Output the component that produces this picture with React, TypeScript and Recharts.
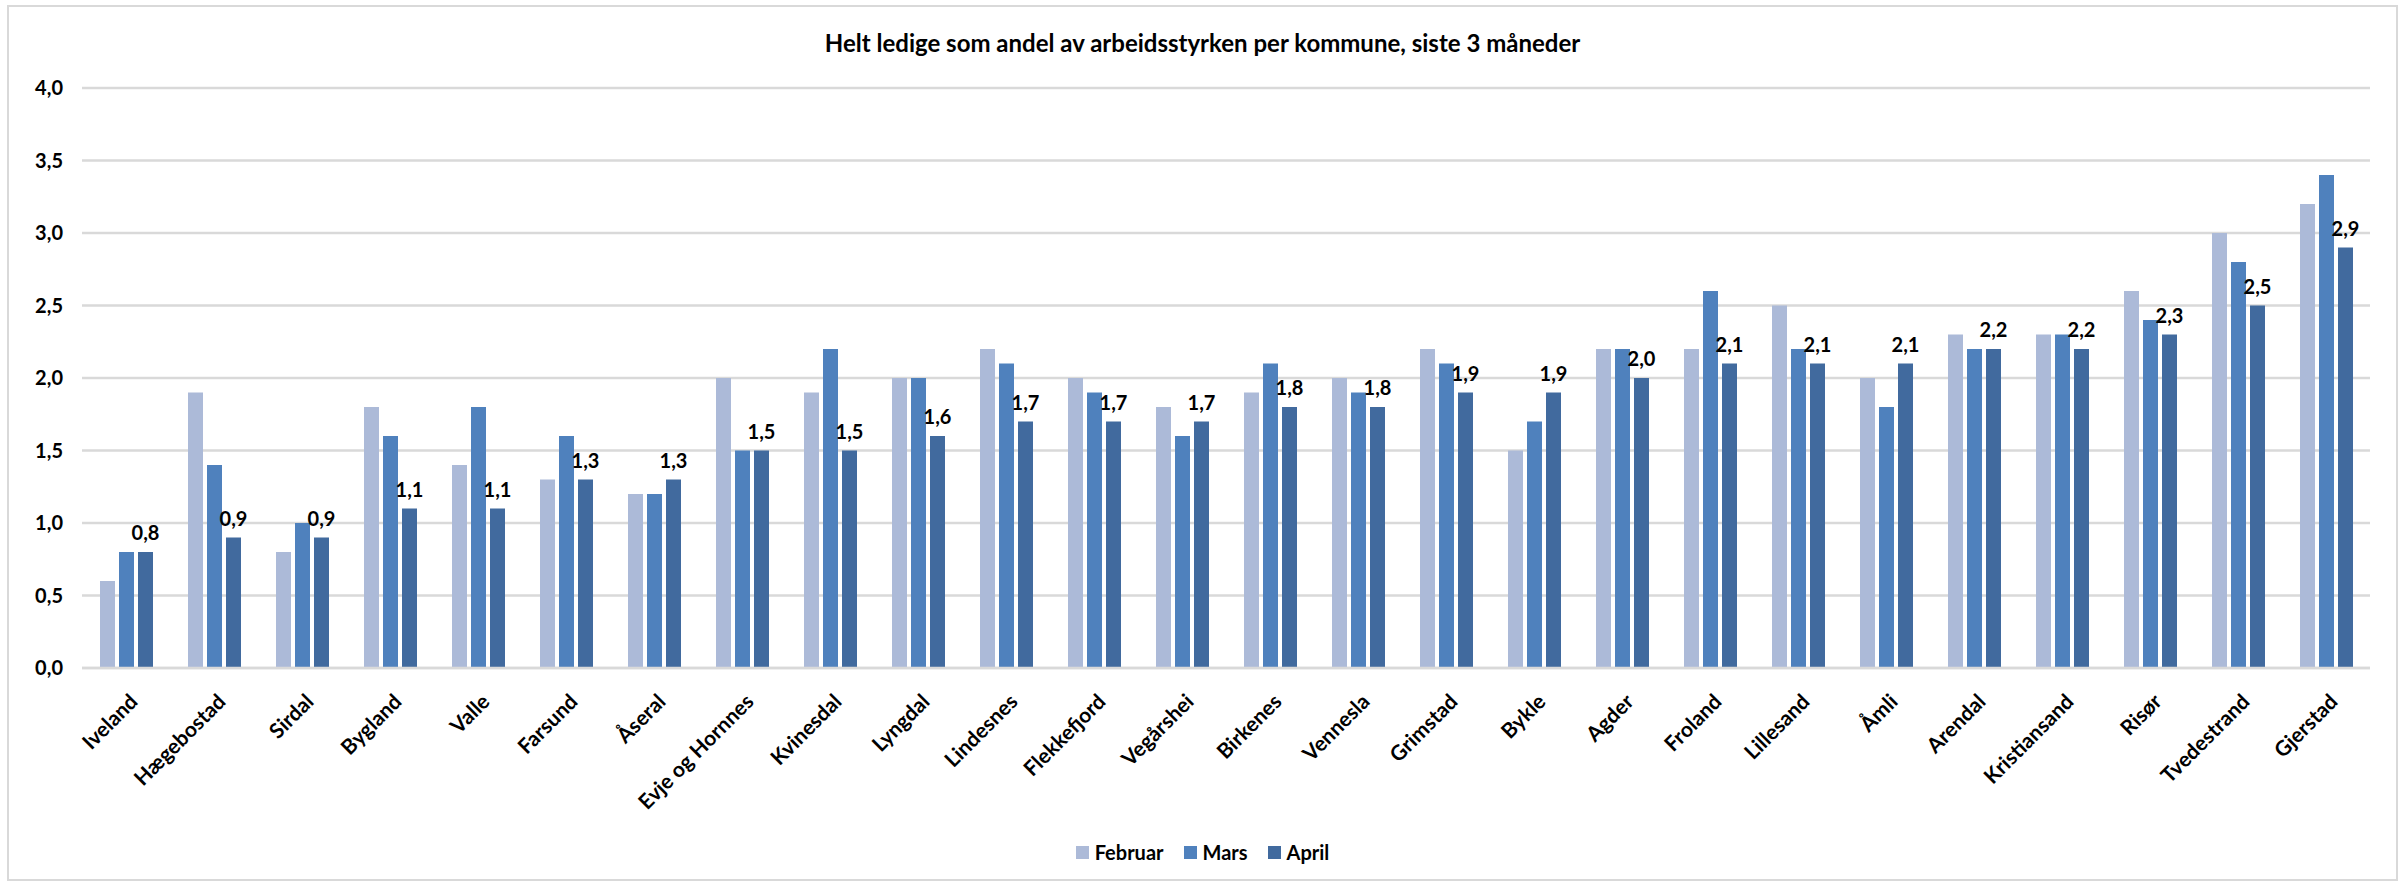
import React from 'react';
import { BarChart, Bar, XAxis, YAxis, CartesianGrid, Legend, LabelList } from 'recharts';

const kommuner = [
  'Iveland', 'Hægebostad', 'Sirdal', 'Bygland', 'Valle', 'Farsund', 'Åseral', 'Evje og Hornnes',
  'Kvinesdal', 'Lyngdal', 'Lindesnes', 'Flekkefjord', 'Vegårshei', 'Birkenes', 'Vennesla',
  'Grimstad', 'Bykle', 'Agder', 'Froland', 'Lillesand', 'Åmli', 'Arendal', 'Kristiansand',
  'Risør', 'Tvedestrand', 'Gjerstad',
];
const februar = [0.6, 1.9, 0.8, 1.8, 1.4, 1.3, 1.2, 2.0, 1.9, 2.0, 2.2, 2.0, 1.8, 1.9, 2.0, 2.2, 1.5, 2.2, 2.2, 2.5, 2.0, 2.3, 2.3, 2.6, 3.0, 3.2];
const mars = [0.8, 1.4, 1.0, 1.6, 1.8, 1.6, 1.2, 1.5, 2.2, 2.0, 2.1, 1.9, 1.6, 2.1, 1.9, 2.1, 1.7, 2.2, 2.6, 2.2, 1.8, 2.2, 2.3, 2.4, 2.8, 3.4];
const april = [0.8, 0.9, 0.9, 1.1, 1.1, 1.3, 1.3, 1.5, 1.5, 1.6, 1.7, 1.7, 1.7, 1.8, 1.8, 1.9, 1.9, 2.0, 2.1, 2.1, 2.1, 2.2, 2.2, 2.3, 2.5, 2.9];
const yTicks = [0, 0.5, 1, 1.5, 2, 2.5, 3, 3.5, 4];
const seriesNames = ['Februar', 'Mars', 'April'];

const chartData = kommuner.map((name, i) => ({
  name,
  februar: februar[i],
  mars: mars[i],
  april: april[i],
}));

const FONT = 'Lato, "Open Sans", sans-serif';
const GRID = '#D9D9D9';

const komma = (v: number) => Number(v).toFixed(1).replace('.', ',');

const CategoryTick = (props: any) => {
  const { x, y, payload } = props;
  return (
    <g transform={`translate(${x + 13},${y + 27})`}>
      <text
        textAnchor="end"
        transform="rotate(-45)"
        fontFamily={FONT}
        fontWeight={700}
        fontSize={21}
        fill="#000"
      >
        {payload.value}
      </text>
    </g>
  );
};

const LegendContent = (props: any) => {
  const { payload = [] } = props;
  // keep series order, recharts sorts legend items by name
  const items = [...payload].sort((a: any, b: any) => seriesNames.indexOf(a.value) - seriesNames.indexOf(b.value));
  return (
    <div style={{
      display: 'flex', justifyContent: 'center', alignItems: 'center', gap: 20,
      fontFamily: FONT, fontWeight: 700, fontSize: 20, color: '#000', height: 30,
    }}>
      {items.map((entry: any) => (
        <span key={entry.value} style={{ display: 'flex', alignItems: 'center' }}>
          <span style={{ width: 13, height: 13, background: entry.color, marginRight: 6, display: 'inline-block' }} />
          {entry.value}
        </span>
      ))}
    </div>
  );
};

export default function App() {
  return (
    <div style={{ position: 'relative', width: 2405, height: 887, background: '#fff' }}>
      <style>{'body{margin:0}'}</style>
      <div style={{
        position: 'absolute', left: 7, top: 5, width: 2391, height: 876,
        border: `2px solid ${GRID}`, boxSizing: 'border-box',
      }} />
      <div style={{
        position: 'absolute', left: 0, top: 29, width: 2405, textAlign: 'center',
        fontFamily: FONT, fontWeight: 700, fontSize: 24, lineHeight: '28px', color: '#000',
      }}>
        Helt ledige som andel av arbeidsstyrken per kommune, siste 3 måneder
      </div>
      <div style={{ position: 'absolute', left: 0, top: 0 }}>
        <BarChart
          width={2405}
          height={887}
          data={chartData}
          margin={{ top: 88, right: 35, left: 12, bottom: 20 }}
          barSize={15}
          barGap={4}
        >
          <CartesianGrid vertical={false} stroke={GRID} strokeWidth={2.5} />
          <XAxis
            dataKey="name"
            interval={0}
            height={169}
            tickLine={false}
            axisLine={{ stroke: GRID, strokeWidth: 2.5 }}
            tick={<CategoryTick />}
          />
          <YAxis
            width={70}
            domain={[0, 4]}
            ticks={yTicks}
            tickFormatter={komma}
            tickLine={false}
            axisLine={false}
            tickMargin={13}
            tick={{ fill: '#000', fontFamily: FONT, fontWeight: 700, fontSize: 20 }}
          />
          <Legend
            verticalAlign="bottom"
            content={<LegendContent />}
            wrapperStyle={{ left: 0, width: 2405, height: 30 }}
          />
          <Bar dataKey="februar" name="Februar" fill="#ACBAD8" isAnimationActive={false} />
          <Bar dataKey="mars" name="Mars" fill="#4F81BD" isAnimationActive={false} />
          <Bar dataKey="april" name="April" fill="#416A9E" isAnimationActive={false}>
            <LabelList
              dataKey="april"
              position="top"
              offset={12}
              formatter={komma}
              style={{ fill: '#000', fontFamily: FONT, fontWeight: 700, fontSize: 20 }}
            />
          </Bar>
        </BarChart>
      </div>
    </div>
  );
}
